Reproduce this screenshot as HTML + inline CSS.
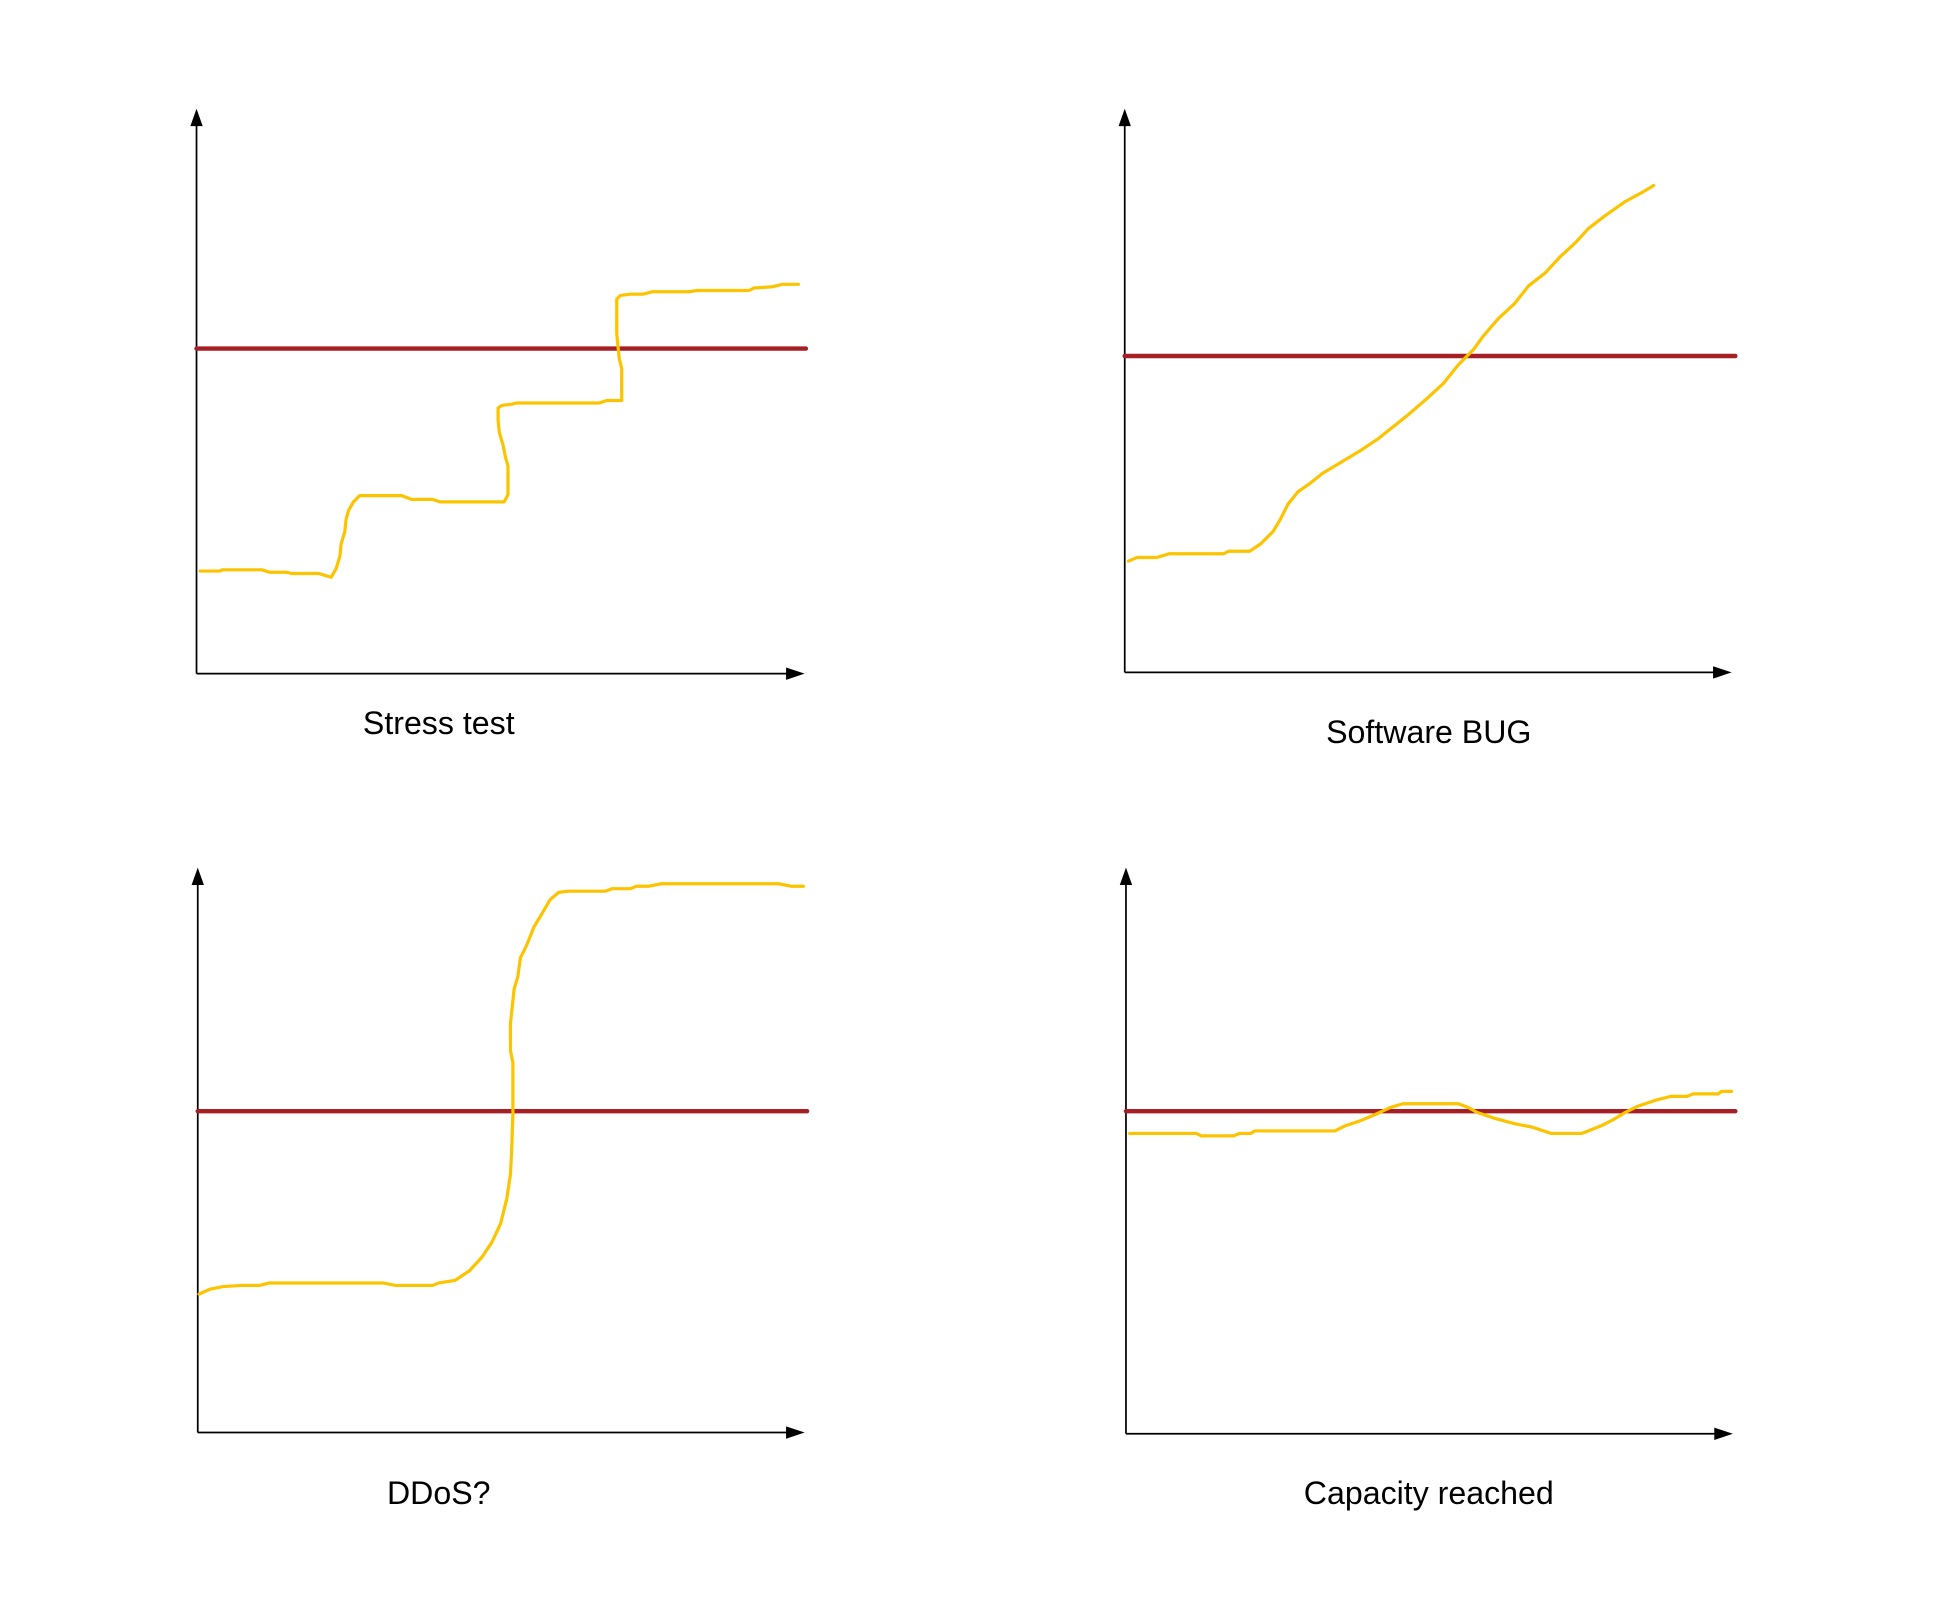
<!DOCTYPE html>
<html><head><meta charset="utf-8"><style>
html,body{margin:0;padding:0;background:#fff;}
svg{display:block;}
text{font-family:"Liberation Sans",sans-serif;font-size:26px;fill:#000;}
</style></head><body>
<svg id="c" width="1938" height="1614" viewBox="0 0 1568 1305.8" xmlns="http://www.w3.org/2000/svg"></svg>
<script>
// Panel 1: Stress test
const stressX = [3,19,21,53,59,73,77,99,109,113,116,117,120,121,123,127,132,166,174,191,197,249,252,252,250,248,245,244,244,247,255,259,326,332,344,344,342,341,340,340,343,351,361,369,398,405,447,451,466,474,487];
const stressY = [83,83,84,84,82,82,81,81,78,85,95,105,115,125,132,139,144,144,141,141,139,139,145,168,175,185,195,205,215,217,218,219,219,221,221,247,255,265,275,303,306,307,307,309,309,310,310,312,313,315,315];
const stressThreshold = 263;
// Panel 2: Software BUG
const bugX = [3,10,26,36,80,84,101,110,120,126,132,140,150,160,175,190,205,215,230,245,258,270,282,290,302,315,327,340,352,365,375,388,405,418,428];
const bugY = [90,93,93,96,96,98,98,104,114,124,136,146,153,161,170,179,189,197,209,222,234,249,261,272,286,298,313,323,336,348,359,369,381,388,394];
const bugThreshold = 256;
// Panel 3: DDoS?
const ddosX = [1,10,20,35,50,58,150,160,190,195,208,220,230,238,245,250,253,254,255,255,253,253,256,259,261,266,272,278,285,292,300,330,335,350,355,365,375,470,480,490];
const ddosY = [112,116,118,119,119,121,121,119,119,121,123,131,142,154,169,189,209,229,259,299,309,331,359,369,384,394,409,419,431,437,438,438,440,440,442,442,444,444,442,442];
const ddosThreshold = 260;
// Panel 4: Capacity reached
const capX = [3,57,61,87,92,101,104,169,177,189,201,214,224,269,277,284,299,314,329,344,369,384,394,404,414,429,441,454,459,479,482,490];
const capY = [243,243,241,241,243,243,245,245,249,253,258,264,267,267,264,260,255,251,248,243,243,249,254,260,265,270,273,273,275,275,277,277];
const capThreshold = 261;
const titles = ["Stress test","Software BUG","DDoS?","Capacity reached"];

const NS="http://www.w3.org/2000/svg";
const svg=document.getElementById('c');
function mk(tag,attrs,parent){const e=document.createElementNS(NS,tag);for(const k in attrs)e.setAttribute(k,attrs[k]);(parent||svg).appendChild(e);return e;}

const panels=[
 {x0:159,y0:545,top:88,tip:651,redEnd:652,tx:355,ty:594,xs:stressX,ys:stressY,th:stressThreshold,key:'stress-test'},
 {x0:910,y0:544,top:88,tip:1401,redEnd:1404,tx:1156,ty:601,xs:bugX,ys:bugY,th:bugThreshold,key:'software-bug'},
 {x0:160,y0:1159,top:702,tip:651,redEnd:653,tx:355,ty:1217,xs:ddosX,ys:ddosY,th:ddosThreshold,key:'ddos'},
 {x0:911,y0:1160,top:702,tip:1402,redEnd:1404,tx:1156,ty:1217,xs:capX,ys:capY,th:capThreshold,key:'capacity-reached'}
];
panels.forEach((p,i)=>{
  const g=mk('g',{});
  
  
  const sx=v=>p.x0+v, sy=v=>p.y0-v;
  const ya=mk('line',{x1:p.x0,y1:p.y0,x2:p.x0,y2:p.top+12,stroke:'#000','stroke-width':1.4},g);
  
  
  const yh=mk('polygon',{points:`${p.x0},${p.top} ${p.x0-5},${p.top+14} ${p.x0+5},${p.top+14}`,fill:'#000'},g);
  
  
  const xa=mk('line',{x1:p.x0,y1:p.y0,x2:p.tip-12,y2:p.y0,stroke:'#000','stroke-width':1.4},g);
  
  
  const xh=mk('polygon',{points:`${p.tip},${p.y0} ${p.tip-15},${p.y0-5} ${p.tip-15},${p.y0+5}`,fill:'#000'},g);
  
  
  const red=mk('line',{x1:p.x0,y1:sy(p.th),x2:p.redEnd,y2:sy(p.th),stroke:'#a61f24','stroke-width':3.6,'stroke-linecap':'round'},g);
  
  
  const pts=p.xs.map((x,j)=>sx(x)+','+sy(p.ys[j])).join(' ');
  const ln=mk('polyline',{points:pts,fill:'none',stroke:'#fcc400','stroke-width':2.6,'stroke-linejoin':'round','stroke-linecap':'round'},g);
  
  
  const t=mk('text',{x:p.tx,y:p.ty,'text-anchor':'middle'},g);
  t.textContent=titles[i];
  
  
});
</script>
</body></html>
